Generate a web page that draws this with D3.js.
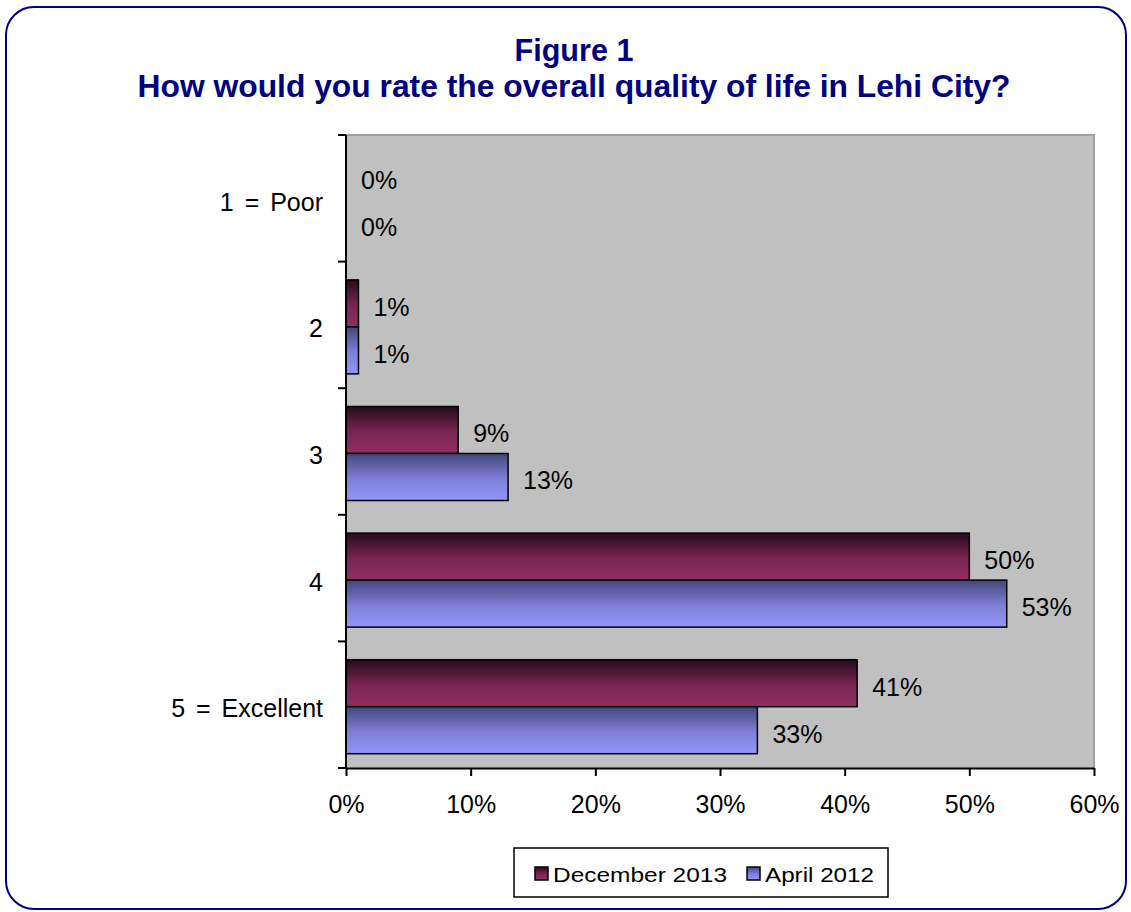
<!DOCTYPE html>
<html>
<head>
<meta charset="utf-8">
<script src="https://cdn.jsdelivr.net/npm/d3@7"></script>
<style>
  html, body { margin: 0; padding: 0; background: #fff; }
  svg { display: block; font-family: "Liberation Sans", Arial, sans-serif; }
</style>
</head>
<body>
<svg id="chart" width="1131" height="912"></svg>
<script>
// Survey response categories (top to bottom)
const categories = ["1 = Poor", "2", "3", "4", "5 = Excellent"];
// Share of respondents per rating, in percent
const dec2013 = [0, 1, 9, 50, 41];
const apr2012 = [0, 1, 13, 53, 33];
const seriesNames = ["December 2013", "April 2012"];
const xTicks = [0, 10, 20, 30, 40, 50, 60];

const svg = d3.select("#chart");

// Vertical gradients for the bar fills
const defs = svg.append("defs");
function grad(id, top, mid, bottom) {
  const g = defs.append("linearGradient").attr("id", id)
    .attr("x1", 0).attr("y1", 0).attr("x2", 0).attr("y2", 1);
  g.append("stop").attr("offset", "0%").attr("stop-color", top);
  g.append("stop").attr("offset", "55%").attr("stop-color", mid);
  g.append("stop").attr("offset", "100%").attr("stop-color", bottom);
}
grad("gDec", "#260b1a", "#7a2652", "#912e63");
grad("gApr", "#44467a", "#7f80d8", "#9494fa");
const fills = ["url(#gDec)", "url(#gApr)"];

// Outer rounded frame
svg.append("rect")
  .attr("x", 6).attr("y", 7).attr("width", 1120).attr("height", 902)
  .attr("rx", 28).attr("ry", 28)
  .attr("fill", "#fff").attr("stroke", "#000080").attr("stroke-width", 2);

// Title
const title = svg.append("g")
  .attr("text-anchor", "middle")
  .attr("fill", "#000080")
  .attr("font-weight", "bold")
  .attr("font-size", 31);
title.append("text").attr("x", 574).attr("y", 61)
  .attr("textLength", 119).attr("lengthAdjust", "spacingAndGlyphs")
  .text("Figure 1");
title.append("text").attr("x", 574).attr("y", 97)
  .attr("textLength", 873).attr("lengthAdjust", "spacingAndGlyphs")
  .text("How would you rate the overall quality of life in Lehi City?");

// Plot area
const plot = { left: 346, right: 1094, top: 135, bottom: 768 };

const x = d3.scaleLinear().domain([0, 60]).range([plot.left, plot.right]);
const y = d3.scaleBand().domain(categories).range([plot.top, plot.bottom])
  .paddingInner(0.2575).paddingOuter(0.12875);
const yTick = d3.scaleBand().domain(categories).range([plot.top, plot.bottom]);
const ySub = d3.scaleBand().domain(seriesNames).range([2, y.bandwidth() + 2]);

svg.append("rect")
  .attr("x", plot.left).attr("y", plot.top)
  .attr("width", plot.right - plot.left).attr("height", plot.bottom - plot.top)
  .attr("fill", "#c0c0c0");
// light edge on the top and right of the plot area
svg.append("path")
  .attr("d", `M${plot.left},${plot.top}H${plot.right}V${plot.bottom}`)
  .attr("fill", "none").attr("stroke", "#a0a0a0").attr("stroke-width", 2);

// Bars
const rows = categories.map((c, i) => ({ cat: c, vals: [dec2013[i], apr2012[i]] }));
const groups = svg.append("g").selectAll("g").data(rows).join("g")
  .attr("transform", d => `translate(0,${y(d.cat)})`);

groups.selectAll("rect").data(d => d.vals.map((v, j) => ({ v, s: seriesNames[j], j })))
  .join("rect")
  .filter(d => d.v > 0)
  .attr("x", x(0))
  .attr("y", d => ySub(d.s))
  .attr("width", d => x(d.v) - x(0))
  .attr("height", ySub.bandwidth())
  .attr("fill", d => fills[d.j])
  .attr("stroke", "#000").attr("stroke-width", 1.5);

// Value labels
groups.selectAll("text").data(d => d.vals.map((v, j) => ({ v, s: seriesNames[j] })))
  .join("text")
  .attr("x", d => x(d.v) + 15)
  .attr("y", d => ySub(d.s) + ySub.bandwidth() / 2 + 12.5)
  .attr("font-size", 25)
  .attr("fill", "#000")
  .text(d => d.v + "%");

// X axis
const xAxis = d3.axisBottom(x).tickValues(xTicks).tickFormat(d => d + "%")
  .tickSize(8).tickSizeOuter(0);
const gx = svg.append("g").attr("transform", `translate(0,${plot.bottom})`).call(xAxis);
gx.select(".domain").attr("stroke", "#000").attr("stroke-width", 2);
gx.selectAll(".tick line").attr("stroke", "#000").attr("stroke-width", 2);
gx.selectAll(".tick text").attr("font-size", 25).attr("fill", "#000")
  .attr("font-family", "Liberation Sans, Arial, sans-serif")
  .attr("y", 45).attr("dy", 0);

// Y axis: ticks at band boundaries, labels at band centres
const gy = svg.append("g").attr("transform", `translate(${plot.left},0)`);
gy.append("line").attr("x1", 0).attr("x2", 0).attr("y1", plot.top).attr("y2", plot.bottom)
  .attr("stroke", "#000").attr("stroke-width", 2);
const bounds = categories.map(c => yTick(c)).concat([plot.bottom]);
gy.selectAll("line.tk").data(bounds).join("line").attr("class", "tk")
  .attr("x1", -8).attr("x2", 0).attr("y1", d => d).attr("y2", d => d)
  .attr("stroke", "#000").attr("stroke-width", 2);
gy.selectAll("text").data(categories).join("text")
  .attr("x", -23)
  .attr("y", d => yTick(d) + yTick.bandwidth() / 2 + 12.5)
  .attr("text-anchor", "end")
  .attr("font-size", 25)
  .attr("word-spacing", 4)
  .attr("fill", "#000")
  .text(d => d);

// Legend
const lg = svg.append("g");
lg.append("rect").attr("x", 514).attr("y", 848).attr("width", 374).attr("height", 49)
  .attr("fill", "#fff").attr("stroke", "#000").attr("stroke-width", 1.5);
const legendItems = [
  { name: seriesNames[0], sx: 535, tx: 553, len: 174 },
  { name: seriesNames[1], sx: 747, tx: 765, len: 109 }
];
legendItems.forEach((it, i) => {
  lg.append("rect").attr("x", it.sx).attr("y", 867).attr("width", 13).attr("height", 13)
    .attr("fill", fills[i]).attr("stroke", "#000").attr("stroke-width", 1.5);
  lg.append("text").attr("x", it.tx).attr("y", 882)
    .attr("font-size", 21).attr("fill", "#000")
    .attr("textLength", it.len).attr("lengthAdjust", "spacingAndGlyphs")
    .text(it.name);
});
</script>
</body>
</html>
